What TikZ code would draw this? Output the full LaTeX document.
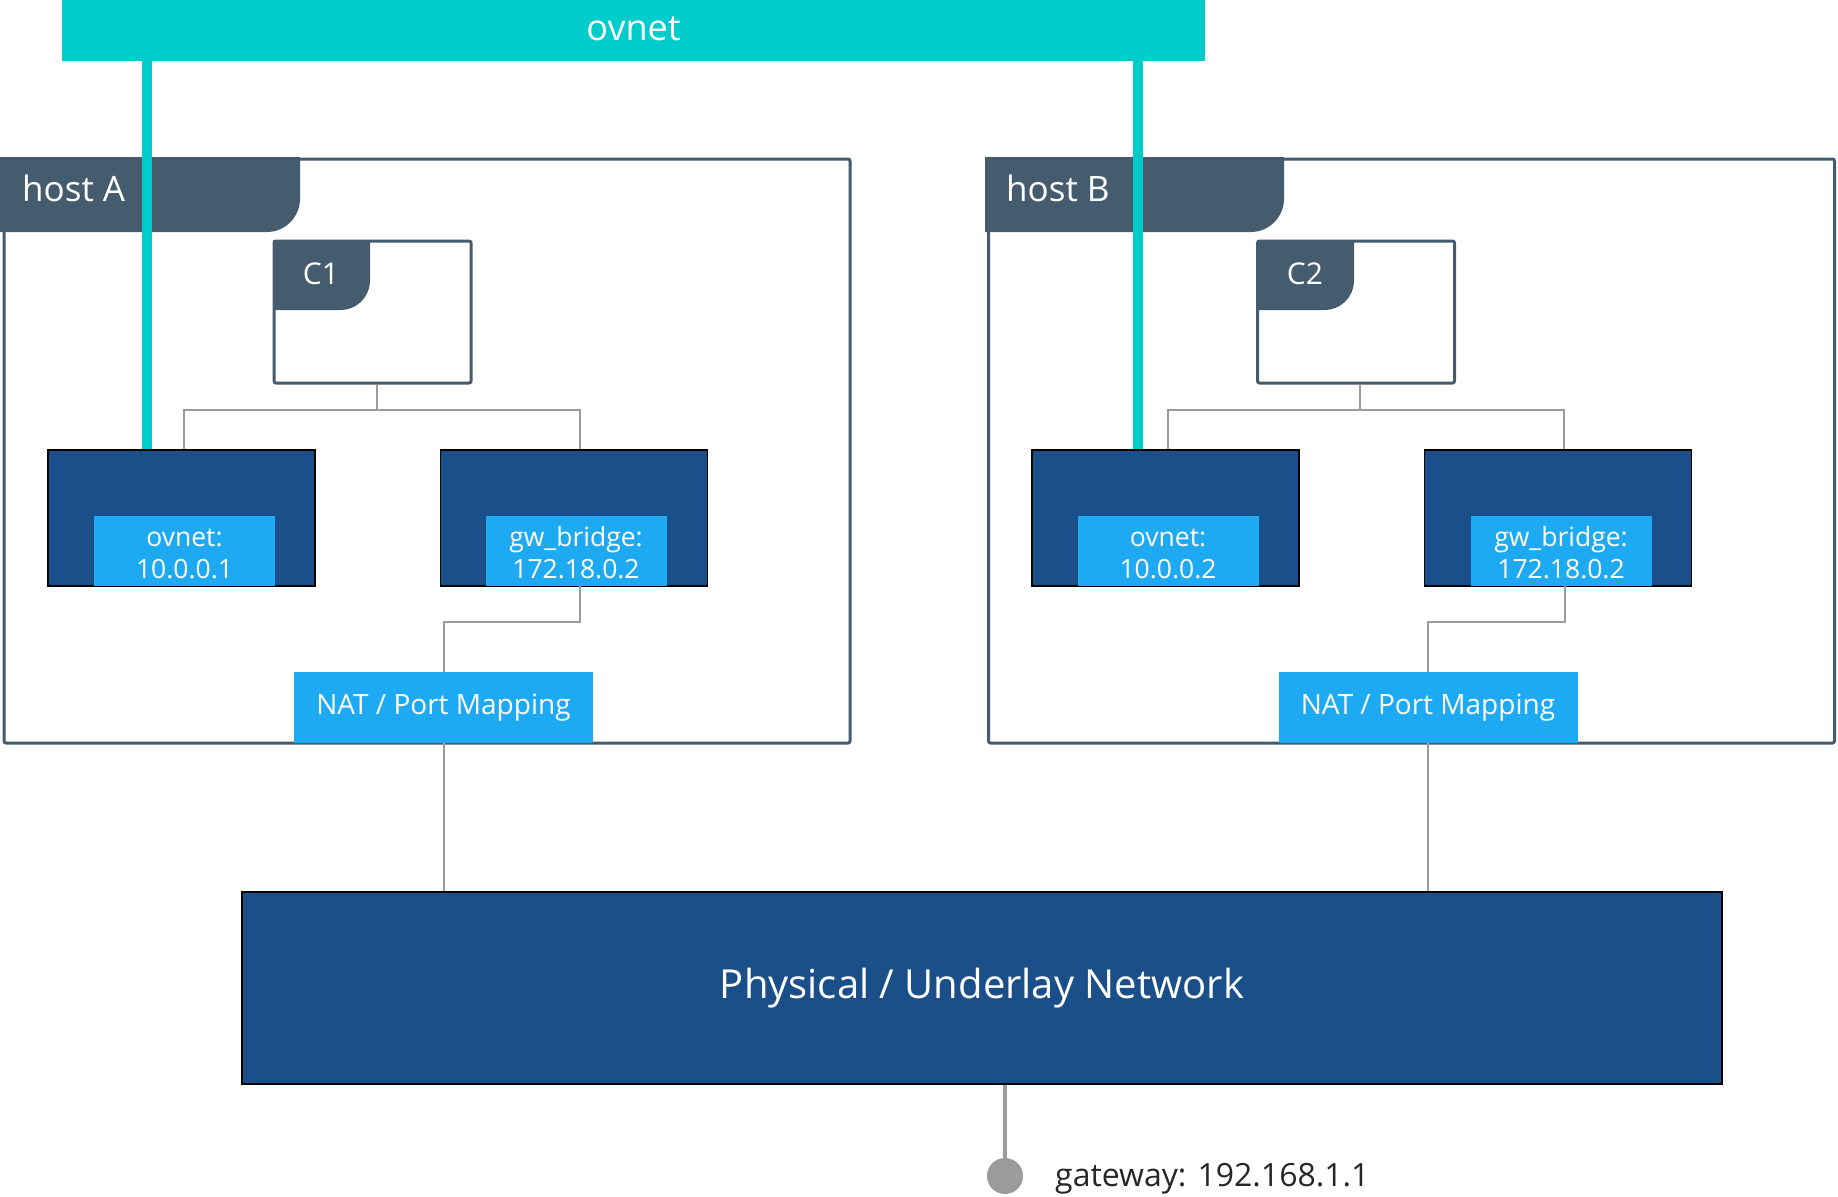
\documentclass[tikz,border=0pt]{standalone}
\usepackage{fontspec}
\setmainfont{Open Sans}

\definecolor{ovteal}{HTML}{00CCCC}
\definecolor{slate}{HTML}{455B6E}
\definecolor{navy}{HTML}{1B4F8A}
\definecolor{sky}{HTML}{1EAAF3}
\definecolor{wiregray}{HTML}{9B9B9B}

\begin{document}
\begin{tikzpicture}[x = 1pt, y = -1pt]
			% Fix the page to the size of the picture
			\useasboundingbox (0, 0) rectangle (1838, 1196);

			% Custom styles for the boxes and the lines
			\tikzset{
				hostframe/.style = {draw = slate, line width = 3pt, rounded corners = 2pt, minimum width = 846pt, minimum height = 584pt},
				ctframe/.style = {draw = slate, line width = 3pt, rounded corners = 2pt, minimum width = 197pt, minimum height = 142pt},
				iface/.style = {draw = black, line width = 1.5pt, fill = navy, minimum width = 267pt, minimum height = 136pt},
				ifacelbl/.style = {fill = sky, text = white, align = center, inner sep = 0pt, minimum width = 181pt, minimum height = 70pt, font = \fontsize{26.5}{32}\selectfont},
				natbox/.style = {fill = sky, text = white, inner sep = 0pt, minimum width = 299pt, minimum height = 71pt, font = \fontsize{28}{34}\selectfont},
				tablbl/.style = {text = white, inner sep = 0pt, font = \fontsize{35}{40}\selectfont},
				wire/.style = {draw = wiregray, line width = 2pt},
				ovlink/.style = {draw = ovteal, line width = 10pt}
			}

			% Draw the ovnet bar
			\node[fill = ovteal, text = white, minimum width = 1143pt, minimum height = 61pt, font = \fontsize{36}{40}\selectfont] (ovnet) at (633.5, 30.5) {\raisebox{2pt}[\height][\depth]{ovnet}};

			% Draw the host frames
			\node[hostframe] (hostA) at (427, 451) {};
			\node[hostframe] (hostB) at (1411.5, 451) {};

			% Draw the host tabs
			\fill[slate] (0, 157) -- (300, 157) -- (300, 199) .. controls (300, 217) and (285, 232) .. (267, 232) -- (0, 232) -- cycle;
			\fill[slate] (985, 157) -- (1284, 157) -- (1284, 199) .. controls (1284, 217) and (1269, 232) .. (1251, 232) -- (985, 232) -- cycle;
			\node[tablbl, anchor = west] (hostAlbl) at (22, 188) {host A};
			\node[tablbl, anchor = west] (hostBlbl) at (1006, 188) {host B};

			% Draw the containers
			\node[ctframe] (c1) at (372.5, 312) {};
			\node[ctframe] (c2) at (1356, 312) {};
			\fill[slate] (273, 240) -- (370, 240) -- (370, 280) .. controls (370, 297) and (357, 310) .. (340, 310) -- (273, 310) -- cycle;
			\fill[slate] (1257, 240) -- (1354, 240) -- (1354, 280) .. controls (1354, 297) and (1341, 310) .. (1324, 310) -- (1257, 310) -- cycle;
			\node[tablbl, font = \fontsize{30}{36}\selectfont] (c1lbl) at (321, 274) {C1};
			\node[tablbl, font = \fontsize{30}{36}\selectfont] (c2lbl) at (1305, 274) {C2};

			% Draw the interfaces
			\node[iface] (ifA1) at (181.5, 518) {};
			\node[iface] (ifA2) at (574, 518) {};
			\node[iface] (ifB1) at (1165.5, 518) {};
			\node[iface] (ifB2) at (1558, 518) {};

			% Draw the wires from the containers to the interfaces
			\path ([xshift = 4pt]c1.south) ++(0, 25) coordinate (jA);
			\path ([xshift = 4pt]c2.south) ++(0, 25) coordinate (jB);
			\draw[wire] ([xshift = 4pt]c1.south) -- (jA);
			\draw[wire] ([xshift = 2pt]ifA1.north) |- (jA) -| ([xshift = 6pt]ifA2.north);
			\draw[wire] ([xshift = 4pt]c2.south) -- (jB);
			\draw[wire] ([xshift = 2pt]ifB1.north) |- (jB) -| ([xshift = 6pt]ifB2.north);

			% Draw the ovnet links
			\coordinate (tA) at (147, 0);
			\coordinate (tB) at (1138, 0);
			\draw[ovlink] (tA |- ovnet.south) -- (tA |- ifA1.north);
			\draw[ovlink] (tB |- ovnet.south) -- (tB |- ifB1.north);

			% Draw the interface labels
			\node[ifacelbl] (lblA1) at (184.5, 551) {\raisebox{-5pt}[\height][\depth]{\begin{tabular}{@{}c@{}}ovnet:\\10.0.0.1\end{tabular}}};
			\node[ifacelbl] (lblA2) at (576, 551) {\raisebox{-5pt}[\height][\depth]{\begin{tabular}{@{}c@{}}gw\_bridge:\\172.18.0.2\end{tabular}}};
			\node[ifacelbl] (lblB1) at (1168, 551) {\raisebox{-5pt}[\height][\depth]{\begin{tabular}{@{}c@{}}ovnet:\\10.0.0.2\end{tabular}}};
			\node[ifacelbl] (lblB2) at (1561, 551) {\raisebox{-5pt}[\height][\depth]{\begin{tabular}{@{}c@{}}gw\_bridge:\\172.18.0.2\end{tabular}}};

			% Draw the NAT boxes
			\node[natbox] (natA) at (443.5, 707.5) {NAT / Port Mapping};
			\node[natbox] (natB) at (1428, 707.5) {NAT / Port Mapping};
			\draw[wire] ([xshift = 4pt]lblA2.south) -- ++(0, 36) -| (natA.north);
			\draw[wire] ([xshift = 4pt]lblB2.south) -- ++(0, 36) -| (natB.north);

			% Draw the underlay network
			\node[draw = black, line width = 2pt, fill = navy, text = white, minimum width = 1480pt, minimum height = 192pt, font = \fontsize{40}{48}\selectfont] (phys) at (982, 988) {Physical / Underlay Network};
			\draw[wire] (natA.south) -- (natA.south |- phys.north);
			\draw[wire] (natB.south) -- (natB.south |- phys.north);

			% Draw the gateway
			\node[circle, fill = wiregray, minimum size = 36pt, inner sep = 0pt] (gwdot) at (1005, 1176) {};
			\draw[wire, line width = 4pt] (gwdot |- phys.south) -- (gwdot);
			\node[anchor = west, inner sep = 0pt, text = black!85, font = \fontsize{32}{38}\selectfont] (gwlbl) at (1055, 1179) {gateway: 192.168.1.1};

		\end{tikzpicture}
\end{document}
